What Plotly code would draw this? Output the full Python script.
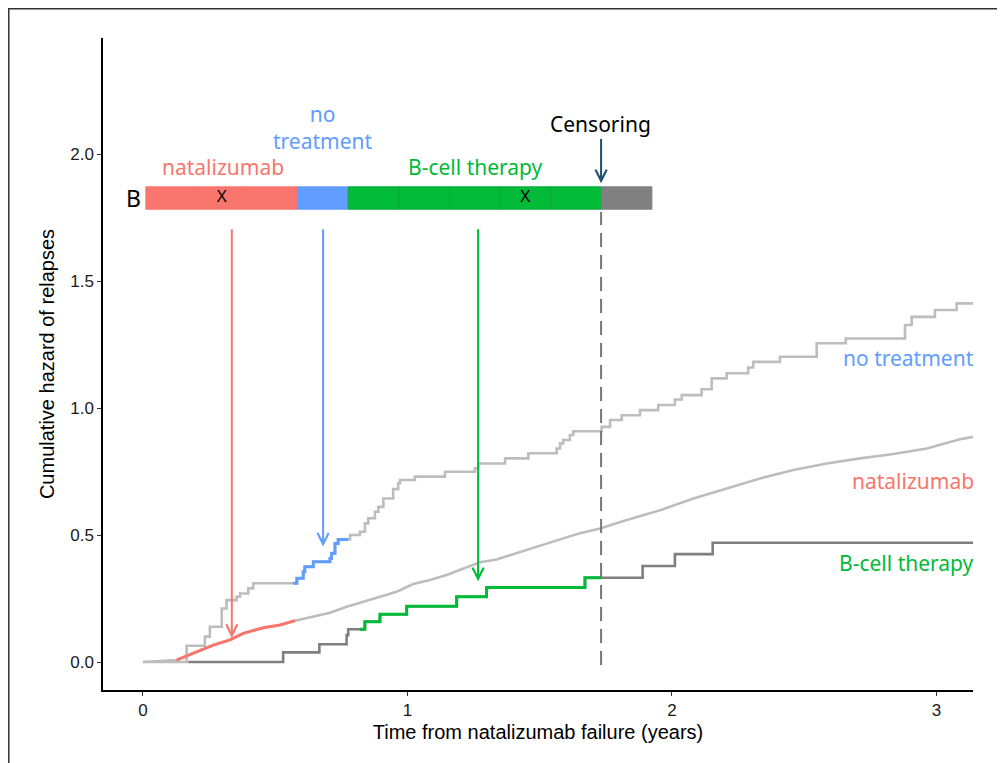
import plotly.graph_objects as go

# ---------------- data ----------------
# cumulative hazard curves (years, cumulative hazard)
nt_x = [0, 0.165, 0.234, 0.253, 0.298, 0.316, 0.354, 0.367, 0.398, 0.417,
        0.582, 0.606, 0.612, 0.644, 0.707, 0.713, 0.726, 0.738,
        0.783, 0.820, 0.839, 0.852, 0.877, 0.890, 0.909, 0.946, 0.965, 0.972,
        1.028, 1.142, 1.255, 1.268, 1.369, 1.457, 1.564, 1.577, 1.589, 1.614, 1.627,
        1.734, 1.766, 1.810, 1.879, 1.948, 2.011, 2.037, 2.112, 2.150, 2.207, 2.288,
        2.307, 2.408, 2.547, 2.657, 2.881, 2.906, 2.994, 3.076, 3.139]
nt_y = [0, 0.064, 0.100, 0.139, 0.211, 0.244, 0.257, 0.270, 0.290, 0.310,
        0.330, 0.356, 0.375, 0.395, 0.408, 0.428, 0.467, 0.483,
        0.500, 0.513, 0.546, 0.566, 0.592, 0.611, 0.644, 0.681, 0.704, 0.717,
        0.730, 0.749, 0.763, 0.782, 0.802, 0.822, 0.841, 0.861, 0.874, 0.894, 0.909,
        0.926, 0.953, 0.972, 0.992, 1.012, 1.034, 1.051, 1.074, 1.117, 1.137, 1.160,
        1.182, 1.202, 1.255, 1.274, 1.327, 1.359, 1.386, 1.412, 1.412]

nat_x = [0, 0.127, 0.203, 0.266, 0.329, 0.379, 0.455, 0.518, 0.575,
         0.644, 0.707, 0.770, 0.833, 0.896, 0.959, 1.022, 1.085, 1.148, 1.211,
         1.274, 1.337, 1.400, 1.463, 1.526, 1.589, 1.652, 1.728,
         1.829, 1.955, 2.081, 2.207, 2.333, 2.459, 2.585, 2.711, 2.837, 2.963, 3.089, 3.139]
nat_y = [0, 0.008, 0.041, 0.067, 0.087, 0.113, 0.135, 0.146, 0.163,
         0.178, 0.194, 0.218, 0.237, 0.257, 0.277, 0.307, 0.323, 0.343, 0.369,
         0.393, 0.404, 0.425, 0.448, 0.467, 0.487, 0.507, 0.526,
         0.559, 0.598, 0.644, 0.684, 0.723, 0.756, 0.782, 0.802, 0.819, 0.841, 0.877, 0.887]

bc_x = [0.171, 0.530, 0.667, 0.770, 0.776, 0.839, 0.896, 0.997, 1.186, 1.299,
        1.671, 1.889, 2.011, 2.154, 3.139]
bc_y = [0, 0.038, 0.070, 0.106, 0.129, 0.159, 0.188, 0.220, 0.257, 0.294,
        0.332, 0.378, 0.425, 0.470, 0.470]

# highlighted periods of the example patient (years)
nat_period = [0.127, 0.575]
nt_period = [0.568, 0.776]
bc_period = [0.820, 1.732]
censor_time = 1.732

# example patient timeline (cells)
cell_start = [0.011, 0.202, 0.394, 0.585, 0.776, 0.968, 1.159, 1.350, 1.541, 1.733]
cell_end = [0.202, 0.394, 0.585, 0.776, 0.968, 1.159, 1.350, 1.541, 1.733, 1.924]
cell_state = ["natalizumab", "natalizumab", "natalizumab", "no treatment",
              "B-cell therapy", "B-cell therapy", "B-cell therapy", "B-cell therapy",
              "B-cell therapy", "censored"]
relapse_cells = [1, 7]
timeline_y = 1.827

# arrow x positions (years) and arrow tips (cum. hazard)
arrow_x = [0.336, 0.681, 1.267]
arrow_tip = [0.095, 0.455, 0.318]

x_ticks = [0, 1, 2, 3]
y_ticks = [0.0, 0.5, 1.0, 1.5, 2.0]

# ---------------- style ----------------
COL = {"natalizumab": "#F8766D", "no treatment": "#619CFF",
       "B-cell therapy": "#00BA38", "censored": "#808080"}
EDGE = {"natalizumab": "#F8766D", "no treatment": "#619CFF",
        "B-cell therapy": "#08A83A", "censored": "#808080"}
LIGHT = "#BDBDBD"
DARK = "#7F7F7F"
LABEL_FONT = "Noto Sans"
AXIS_FONT = "Liberation Sans"
LBL = 21


def step_segment(xs, ys, lo, hi):
    i_lo = max(i for i, x in enumerate(xs) if x <= lo)
    i_hi = max(i for i, x in enumerate(xs) if x <= hi)
    sx, sy = [lo], [ys[i_lo]]
    for x, y in zip(xs, ys):
        if lo < x < hi:
            sx.append(x)
            sy.append(y)
    sx.append(hi)
    sy.append(ys[i_hi])
    return sx, sy


def lin_segment(xs, ys, lo, hi):
    sx = [x for x in xs if lo <= x <= hi]
    sy = [y for x, y in zip(xs, ys) if lo <= x <= hi]
    return sx, sy


fig = go.Figure()

# grey base curves
fig.add_trace(go.Scatter(x=nat_x, y=nat_y, mode="lines", line=dict(color=LIGHT, width=2.6),
                         showlegend=False, hoverinfo="skip"))
fig.add_trace(go.Scatter(x=bc_x, y=bc_y, mode="lines", line=dict(color=DARK, width=2.6, shape="hv"),
                         showlegend=False, hoverinfo="skip"))
fig.add_trace(go.Scatter(x=nt_x, y=nt_y, mode="lines", line=dict(color=LIGHT, width=2.6, shape="hv"),
                         showlegend=False, hoverinfo="skip"))

# coloured segments
sx, sy = lin_segment(nat_x, nat_y, *nat_period)
fig.add_trace(go.Scatter(x=sx, y=sy, mode="lines", line=dict(color=COL["natalizumab"], width=3),
                         showlegend=False, hoverinfo="skip"))
sx, sy = step_segment(nt_x, nt_y, *nt_period)
fig.add_trace(go.Scatter(x=sx, y=sy, mode="lines",
                         line=dict(color=COL["no treatment"], width=3, shape="hv"),
                         showlegend=False, hoverinfo="skip"))
sx, sy = step_segment(bc_x, bc_y, *bc_period)
fig.add_trace(go.Scatter(x=sx, y=sy, mode="lines",
                         line=dict(color=COL["B-cell therapy"], width=3, shape="hv"),
                         showlegend=False, hoverinfo="skip"))

# timeline bar
fig.add_trace(go.Bar(
    y=[timeline_y] * len(cell_start),
    x=[e - s for s, e in zip(cell_start, cell_end)],
    base=cell_start, orientation="h", width=0.088,
    marker=dict(color=[COL[s] for s in cell_state],
                line=dict(color=[EDGE[s] for s in cell_state], width=1)),
    showlegend=False, hoverinfo="skip"))

fig.add_trace(go.Scatter(
    x=[(cell_start[i] + cell_end[i]) / 2 for i in relapse_cells],
    y=[timeline_y] * len(relapse_cells), mode="text", text=["X"] * len(relapse_cells),
    textfont=dict(family=LABEL_FONT, size=17, color="black"),
    showlegend=False, hoverinfo="skip"))

# censoring dashed line
fig.add_shape(type="line", x0=censor_time, x1=censor_time, y0=-0.012, y1=1.772,
              xref="x", yref="y", line=dict(color="#777777", width=2, dash="14px,8px"))

# arrows from timeline to curves
for ax_, tip, key in zip(arrow_x, arrow_tip, ["natalizumab", "no treatment", "B-cell therapy"]):
    fig.add_annotation(x=ax_, y=tip, ax=ax_, ay=1.71, xref="x", yref="y", axref="x", ayref="y",
                       text="", showarrow=True, arrowhead=5, arrowsize=1.1, arrowwidth=2,
                       arrowcolor=COL[key])
fig.add_annotation(x=censor_time, y=1.885, ax=censor_time, ay=2.065, xref="x", yref="y",
                   axref="x", ayref="y", text="", showarrow=True, arrowhead=5, arrowsize=1.1,
                   arrowwidth=2, arrowcolor="#1F4E6E")

# timeline labels
fig.add_annotation(x=0.0, y=timeline_y, text="B", showarrow=False, xanchor="right",
                   font=dict(family=LABEL_FONT, size=23, color="black"))
fig.add_annotation(x=0.302, y=1.949, text="natalizumab", showarrow=False,
                   font=dict(family=LABEL_FONT, size=LBL, color=COL["natalizumab"]))
fig.add_annotation(x=0.677, y=2.106, text="no<br>treatment", showarrow=False,
                   font=dict(family=LABEL_FONT, size=LBL, color=COL["no treatment"]))
fig.add_annotation(x=1.259, y=1.949, text="B-cell therapy", showarrow=False,
                   font=dict(family=LABEL_FONT, size=LBL, color=COL["B-cell therapy"]))
fig.add_annotation(x=1.728, y=2.118, text="Censoring", showarrow=False,
                   font=dict(family=LABEL_FONT, size=LBL, color="black"))

# curve labels (right side)
fig.add_annotation(x=1.003, xref="paper", y=1.197, text="no treatment", showarrow=False,
                   xanchor="right", font=dict(family=LABEL_FONT, size=LBL, color=COL["no treatment"]))
fig.add_annotation(x=1.003, xref="paper", y=0.713, text="natalizumab", showarrow=False,
                   xanchor="right", font=dict(family=LABEL_FONT, size=LBL, color=COL["natalizumab"]))
fig.add_annotation(x=1.003, xref="paper", y=0.390, text="B-cell therapy", showarrow=False,
                   xanchor="right", font=dict(family=LABEL_FONT, size=LBL, color=COL["B-cell therapy"]))

# outer frame
fig.add_shape(type="rect", xref="paper", yref="paper", x0=-0.1083, x1=1.2, y0=-0.2, y1=1.0449,
              line=dict(color="#333333", width=1.5), fillcolor="rgba(0,0,0,0)", layer="below")

fig.update_layout(
    width=1005, height=763,
    margin=dict(l=95, r=40, t=30, b=81),
    paper_bgcolor="white", plot_bgcolor="white",
    barmode="overlay",
    xaxis=dict(range=[-0.151, 3.138], tickvals=x_ticks, ticktext=[str(v) for v in x_ticks],
               automargin=False,
               showgrid=False, zeroline=False, showline=True, linecolor="black", linewidth=1.5,
               ticks="outside", ticklen=4, tickcolor="#333333",
               tickfont=dict(family=AXIS_FONT, size=17, color="#1a1a1a"),
               title=dict(text="Time from natalizumab failure (years)", standoff=6,
                          font=dict(family=AXIS_FONT, size=20, color="black"))),
    yaxis=dict(range=[-0.110, 2.457], tickvals=y_ticks, ticktext=[f"{v:.1f}" for v in y_ticks],
               automargin=False,
               showgrid=False, zeroline=False, showline=True, linecolor="black", linewidth=1.5,
               ticks="outside", ticklen=4, tickcolor="#333333",
               tickfont=dict(family=AXIS_FONT, size=17, color="#1a1a1a"),
               title=dict(text="Cumulative hazard of relapses", standoff=10,
                          font=dict(family=AXIS_FONT, size=20, color="black"))),
)

fig.write_html("out.html")
